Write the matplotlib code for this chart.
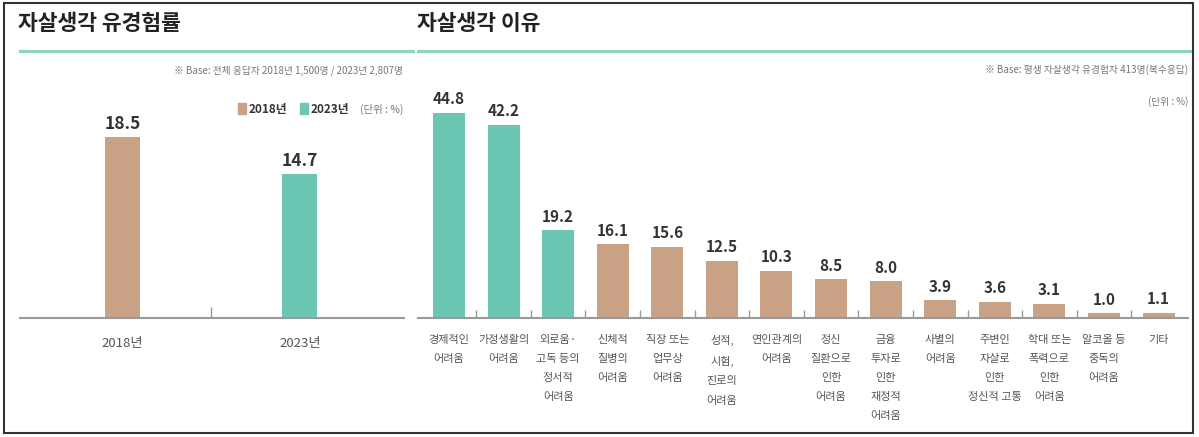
import matplotlib
matplotlib.use('Agg')
import matplotlib.pyplot as plt
from matplotlib.lines import Line2D
from matplotlib.patches import Rectangle

plt.rcParams['font.family'] = ['Noto Sans CJK KR', 'DejaVu Sans']

# data
years = ['2018년', '2023년']
rate = [18.5, 14.7]

reasons = ['경제적인\n어려움', '가정생활의\n어려움', '외로움·\n고독 등의\n정서적\n어려움',
           '신체적\n질병의\n어려움', '직장 또는\n업무상\n어려움', '성적,\n시험,\n진로의\n어려움',
           '연인관계의\n어려움', '정신\n질환으로\n인한\n어려움', '금융\n투자로\n인한\n재정적\n어려움',
           '사별의\n어려움', '주변인\n자살로\n인한\n정신적 고통', '학대 또는\n폭력으로\n인한\n어려움',
           '알코올 등\n중독의\n어려움', '기타']
reason_pct = [44.8, 42.2, 19.2, 16.1, 15.6, 12.5, 10.3, 8.5, 8.0, 3.9, 3.6, 3.1, 1.0, 1.1]
n_top = 3  # top 3 reasons highlighted

TAN = '#C9A285'
TEAL = '#6CC6B4'
LINE = '#8FD3C5'
W, H = 1199, 437


def fx(px):
    return px / W


def fy(py):
    return 1 - py / H


fig = plt.figure(figsize=(W / 100, H / 100), dpi=100)

# outer frame
fig.add_artist(Rectangle((fx(4), fy(433)), fx(1189), (433 - 3) / H,
                         fill=False, ec='#333333', lw=1.5, transform=fig.transFigure))

# titles + underline
fig.text(fx(18), fy(24), '자살생각 유경험률', fontsize=15.5, fontweight='bold',
         color='#222222', va='center', ha='left')
fig.text(fx(417), fy(24), '자살생각 이유', fontsize=15.5, fontweight='bold',
         color='#222222', va='center', ha='left')
fig.add_artist(Line2D([fx(20), fx(413)], [fy(51), fy(51)], color=LINE, lw=2.2))
fig.add_artist(Line2D([fx(418), fx(1190)], [fy(51), fy(51)], color=LINE, lw=2.2))

# notes
fig.text(fx(403), fy(71), '※ Base: 전체 응답자 2018년 1,500명 / 2023년 2,807명',
         fontsize=7, color='#777777', ha='right', va='center')
fig.text(fx(1188), fy(70), '※ Base: 평생 자살생각 유경험자 413명(복수응답)',
         fontsize=7, color='#777777', ha='right', va='center')
fig.text(fx(1188), fy(102), '(단위 : %)', fontsize=7, color='#777777',
         ha='right', va='center')

# left legend
fig.add_artist(Rectangle((fx(238), fy(114)), 8 / W, 11 / H, color=TAN,
                         transform=fig.transFigure))
fig.text(fx(249), fy(109), '2018년', fontsize=8.5, fontweight='bold',
         color='#333333', va='center')
fig.add_artist(Rectangle((fx(300), fy(114)), 8 / W, 11 / H, color=TEAL,
                         transform=fig.transFigure))
fig.text(fx(311), fy(109), '2023년', fontsize=8.5, fontweight='bold',
         color='#333333', va='center')
fig.text(fx(403), fy(109), '(단위 : %)', fontsize=7.5, color='#777777',
         ha='right', va='center')

# left chart
ax1 = fig.add_axes([fx(20), fy(318), 384 / W, 218 / H])
ax1.bar(range(len(years)), rate, width=0.197, color=[TAN, TEAL])
for i, v in enumerate(rate):
    ax1.annotate(f'{v:.1f}', (i, v), xytext=(0, 3), textcoords='offset points',
                 ha='center', va='bottom', fontsize=12.5, fontweight='bold',
                 color='#333333')
ax1.set_xlim(-0.577, 1.586)
ax1.set_ylim(0, 218 / 9.78)

# right chart
ax2 = fig.add_axes([fx(418), fy(318), 770 / W, 218 / H])
ax2.bar(range(len(reasons)), reason_pct, width=0.586,
        color=[TEAL if i < n_top else TAN for i in range(len(reasons))])
for i, v in enumerate(reason_pct):
    ax2.annotate(f'{v:.1f}', (i, v), xytext=(0, 4), textcoords='offset points',
                 ha='center', va='bottom', fontsize=11, fontweight='bold',
                 color='#333333')
ax2.set_xlim(-0.568, 13.54)
ax2.set_ylim(0, 218 / 4.58)

for ax, labels, pad, fs, tl, ls in [(ax1, years, 14, 9.5, 8, 1.2),
                                    (ax2, reasons, 12, 8, 6, 2.15)]:
    for s in ['top', 'right', 'left']:
        ax.spines[s].set_visible(False)
    ax.spines['bottom'].set_color('#999999')
    ax.spines['bottom'].set_linewidth(1.5)
    ax.set_yticks([])
    ax.set_xticks(range(len(labels)))
    ax.set_xticklabels(labels, fontsize=fs, color='#555555', linespacing=ls, va='top')
    ax.set_xticks([i + 0.5 for i in range(len(labels) - 1)], minor=True)
    ax.tick_params(axis='x', which='major', length=0, pad=pad)
    ax.tick_params(axis='x', which='minor', direction='in', length=tl,
                   color='#999999', width=1)
    ax.patch.set_visible(False)

fig.savefig('out.png', dpi=100)
